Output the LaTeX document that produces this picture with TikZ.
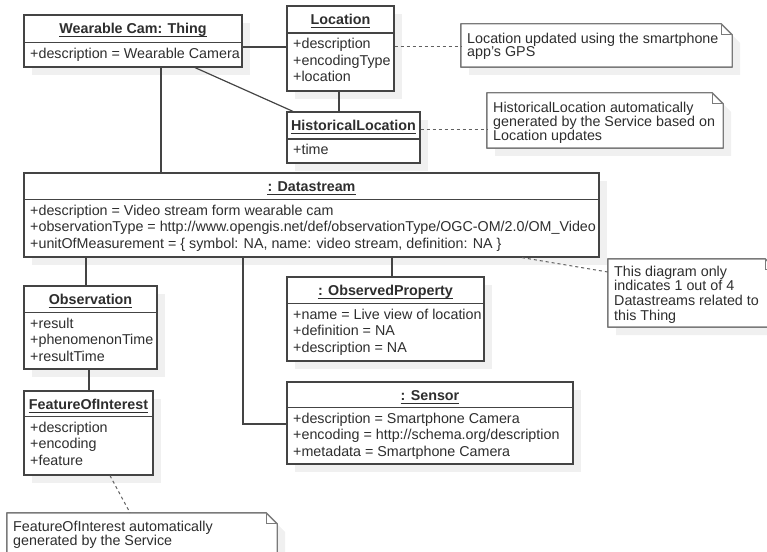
\documentclass[tikz,border=0pt]{standalone}
\usepackage{fontspec}
\setmainfont{Liberation Sans}
\usetikzlibrary{fit}

\definecolor{ink}{HTML}{2E2E2E}
\definecolor{edge}{HTML}{444444}
\definecolor{noteedge}{HTML}{7A7A7A}
\definecolor{shade}{HTML}{F0F0F0}

\tikzset{
  boxframe/.style={draw=edge, line width=1.2bp, fill=white, inner sep=0pt},
  noteframe/.style={draw=noteedge, line width=1.4bp, fill=white, line join=round},
  foldline/.style={draw=noteedge, line width=1.2bp},
  drop/.style={fill=shade},
  assoc/.style={draw=edge, line width=1.2bp},
  anchorline/.style={draw=edge!85, line width=1bp, dash pattern=on 3bp off 3bp},
  headtext/.style={font=\fontsize{14.3bp}{16bp}\selectfont\bfseries, text=ink, inner sep=0pt},
  rowtext/.style={font=\fontsize{14.3bp}{16bp}\selectfont, text=ink, inner sep=0pt},
}

% class box: name, x1, y1, x2, y2, divider y, title, attribute rows
\newcommand{\umlclass}[8]{%
  \fill[drop] (#2+8,#3+8) rectangle (#4+8,#5+8);
  \node[boxframe, fit={(#2,#3) (#4,#5)}] (#1) {};
  \draw[assoc] (#1.west |- 0,#6) -- (#1.east |- 0,#6);
  \node[headtext, anchor=base] (#1-title) at ({(#2+#4)/2},{#3+18.5}) {#7};
  \draw[draw=ink, line width=1.1bp] ([yshift=-2.6bp]#1-title.base west) -- ([yshift=-2.6bp]#1-title.base east);
  \foreach \r [count=\i] in {#8}
    \node[rowtext, anchor=base west] (#1-\i) at (#2+6,{#6+16+(\i-1)*16.3}) {\r};
}

% note with folded corner: name, x1, y1, x2, y2, text x, first baseline, line step, lines
\newcommand{\umlnote}[9]{%
  \fill[drop, shift={(8,8)}] (#2,#3) -- (#4-11,#3) -- (#4,#3+11) -- (#4,#5) -- (#2,#5) -- cycle;
  \node[inner sep=0pt, fit={(#2,#3) (#4,#5)}] (#1) {};
  \draw[noteframe] (#1.north west) -- ([xshift=-11bp]#1.north east) -- ([yshift=-11bp]#1.north east)
    -- (#1.south east) -- (#1.south west) -- cycle;
  \draw[foldline] ([xshift=-11bp]#1.north east) -- ([xshift=-11bp,yshift=-11bp]#1.north east)
    -- ([yshift=-11bp]#1.north east);
  \foreach \l [count=\i] in {#9}
    \node[rowtext, anchor=base west] (#1-\i) at (#6,{#7+(\i-1)*#8}) {\l};
}

\begin{document}
\begin{tikzpicture}[x=1bp, y=-1bp]
\useasboundingbox (0,0) rectangle (767,552);
\clip (0,0) rectangle (767,552);

% classes
\umlclass{thing}{24}{15}{242}{67}{42.5}{Wearable Cam: Thing}{{+description = Wearable Camera}}
\umlclass{loc}{287}{6}{394}{91}{33}{Location}{{+description},{+encodingType},{+location}}
\umlclass{hl}{287}{112}{420}{163}{139}{HistoricalLocation}{{+time}}
\umlclass{ds}{24}{173}{599}{257}{199.5}{: Datastream}{%
  {+description = Video stream form wearable cam},
  {+observationType = http://www.opengis.net/def/observationType/OGC-OM/2.0/OM\_Video},
  {+unitOfMeasurement = \{ symbol: NA, name: video stream, definition: NA \}}}
\umlclass{obs}{24}{286}{157}{369}{312.5}{Observation}{{+result},{+phenomenonTime},{+resultTime}}
\umlclass{foi}{24}{391}{153}{475}{416.5}{FeatureOfInterest}{{+description},{+encoding},{+feature}}
\umlclass{op}{287}{277}{484}{361}{303.5}{: ObservedProperty}{%
  {+name = Live view of location},{+definition = NA},{+description = NA}}
\umlclass{sensor}{287}{382}{573}{464}{407.5}{: Sensor}{%
  {+description = Smartphone Camera},{+encoding = http://schema.org/description},
  {+metadata = Smartphone Camera}}

% notes
\umlnote{n1}{461}{24}{732}{67}{467}{43.3}{13}{{Location updated using the smartphone},{app's GPS}}
\umlnote{n2}{487}{93}{723}{148}{493}{112.5}{13.8}{%
  {HistoricalLocation automatically},{generated by the Service based on},{Location updates}}
\umlnote{n3}{608}{259}{776}{327}{614}{276.5}{14.5}{%
  {This diagram only},{indicates 1 out of 4},{Datastreams related to},{this Thing}}
\umlnote{n4}{7}{513}{277}{566}{13}{531.5}{13.5}{%
  {FeatureOfInterest automatically},{generated by the Service}}

% associations
\draw[assoc] (thing.east |- 0,47) -- (loc.west |- 0,47);
\draw[assoc] (thing.south -| 195,0) -- (hl.north -| 293,0);
\draw[assoc] (loc.south -| 339,0) -- (hl.north -| 339,0);
\draw[assoc] (thing.south -| 161,0) -- (ds.north -| 161,0);
\draw[assoc] (ds.south -| 86,0) -- (obs.north -| 86,0);
\draw[assoc] (ds.south -| 243,0) |- (sensor.west |- 0,424);
\draw[assoc] (ds.south -| 392,0) -- (op.north -| 392,0);
\draw[assoc] (obs.south -| 89,0) -- (foi.north -| 89,0);

% note anchors
\draw[anchorline] (loc.east |- 0,47) -- (n1.west |- 0,47);
\draw[anchorline] (hl.east |- 0,130) -- (n2.west |- 0,130);
\draw[anchorline] (ds.south -| 522,0) -- (n3.west |- 0,272);
\draw[anchorline] (foi.south -| 110,0) -- (n4.north -| 130,0);
\end{tikzpicture}
\end{document}
